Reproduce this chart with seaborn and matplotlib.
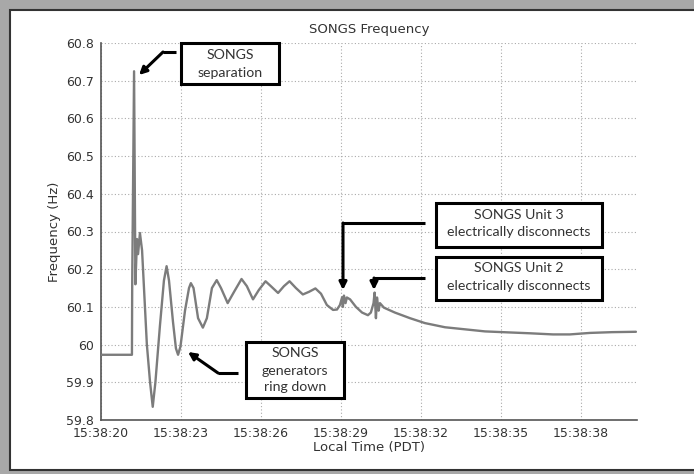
import matplotlib
matplotlib.use("Agg")
import matplotlib.pyplot as plt
import seaborn as sns
import pandas as pd
from matplotlib.patches import Rectangle, FancyArrowPatch
from matplotlib.lines import Line2D

# ---- data (seconds after 15:38:20, frequency in Hz) ----
t_sec = [0.00, 1.16, 1.17, 1.24, 1.29, 1.35, 1.39, 1.46, 1.54, 1.72, 1.84, 1.94,
         2.04, 2.21, 2.36, 2.46, 2.55, 2.70, 2.81, 2.89, 2.98, 3.15, 3.30, 3.37,
         3.47, 3.64, 3.82, 3.97, 4.16, 4.34, 4.50, 4.75, 4.99, 5.27, 5.47, 5.70,
         5.92, 6.17, 6.37, 6.64, 6.86, 7.07, 7.31, 7.57, 7.80, 8.04, 8.25, 8.47,
         8.70, 8.85, 8.96, 9.04, 9.07, 9.11, 9.17, 9.22, 9.34, 9.56, 9.79, 10.01,
         10.12, 10.22, 10.26, 10.31, 10.35, 10.41, 10.46, 10.61, 11.02, 11.59,
         12.15, 12.90, 13.72, 14.40, 15.07, 16.09, 16.95, 17.58, 18.34, 19.16, 20.06]
freq_hz = [59.973, 59.973, 60.160, 60.725, 60.160, 60.280, 60.240, 60.296, 60.250,
           60.000, 59.900, 59.835, 59.900, 60.050, 60.170, 60.208, 60.170, 60.060,
           59.990, 59.973, 59.995, 60.090, 60.150, 60.163, 60.150, 60.070, 60.045,
           60.070, 60.150, 60.171, 60.150, 60.110, 60.140, 60.174, 60.155, 60.120,
           60.145, 60.168, 60.155, 60.137, 60.155, 60.168, 60.150, 60.133, 60.140,
           60.149, 60.135, 60.105, 60.092, 60.093, 60.105, 60.125, 60.100, 60.130,
           60.110, 60.125, 60.120, 60.100, 60.085, 60.078, 60.085, 60.110, 60.138,
           60.070, 60.125, 60.090, 60.110, 60.098, 60.085, 60.070, 60.057, 60.046,
           60.040, 60.035, 60.033, 60.030, 60.027, 60.027, 60.031, 60.033, 60.034]

x_ticks = [0, 3, 6, 9, 12, 15, 18]
x_tick_labels = ["15:38:20", "15:38:23", "15:38:26", "15:38:29",
                 "15:38:32", "15:38:35", "15:38:38"]
y_ticks = [59.8, 59.9, 60.0, 60.1, 60.2, 60.3, 60.4, 60.5, 60.6, 60.7, 60.8]
y_tick_labels = ["59.8", "59.9", "60", "60.1", "60.2", "60.3", "60.4",
                 "60.5", "60.6", "60.7", "60.8"]

title = "SONGS Frequency"
x_label = "Local Time (PDT)"
y_label = "Frequency (Hz)"
notes = ["SONGS\nseparation",
         "SONGS Unit 3\nelectrically disconnects",
         "SONGS Unit 2\nelectrically disconnects",
         "SONGS\ngenerators\nring down"]

df = pd.DataFrame({"t": t_sec, "f": freq_hz})

sns.set_style("white")
plt.rcParams["font.family"] = ["DejaVu Sans"]

W, H = 694, 474
fig = plt.figure(figsize=(W / 100, H / 100), dpi=100)
fig.patch.set_facecolor("#a8a8a8")

def fx(x):
    return x / W

def fy(y):
    return 1 - y / H

# white panel with dark inner edge
panel = Rectangle((fx(10), fy(470)), fx(700) - fx(10), fy(10) - fy(470),
                  transform=fig.transFigure, facecolor="white",
                  edgecolor="#333333", linewidth=1.5, zorder=-5)
fig.patches.append(panel)

ax = fig.add_axes([fx(101), fy(420), fx(637) - fx(101), fy(43) - fy(420)])
ax.set_facecolor("none")
ax.set_zorder(1)

sns.lineplot(data=df, x="t", y="f", ax=ax, color="#7c7c7c", linewidth=1.7,
             zorder=3)

ax.set_xlim(0, 20.1)
ax.set_ylim(59.8, 60.8)
ax.set_xticks(x_ticks)
ax.set_xticklabels(x_tick_labels)
ax.set_yticks(y_ticks)
ax.set_yticklabels(y_tick_labels)
ax.tick_params(axis="both", labelsize=9, length=3, width=1, direction="out",
               colors="#444444", pad=2)
ax.tick_params(axis="both", labelcolor="#333333")
ax.grid(True, linestyle=(0, (1, 2)), color="#aaaaaa", linewidth=0.8)
for s in ["top", "right"]:
    ax.spines[s].set_visible(False)
for s in ["left", "bottom"]:
    ax.spines[s].set_color("#555555")
    ax.spines[s].set_linewidth(1.2)

ax.set_xlabel(x_label, fontsize=9.5, color="#333333", labelpad=1)
ax.set_ylabel(y_label, fontsize=9.5, color="#333333", labelpad=4)
ax.set_title(title, fontsize=9.5, color="#333333", pad=7)

# annotation boxes (pixel layout)
box_font = ["Lato", "DejaVu Sans"]
boxes = [
    (181, 43, 279, 84, notes[0], [55, 73]),
    (436, 203, 602, 247, notes[1], [215, 232]),
    (436, 257, 602, 300, notes[2], [268, 286]),
    (246, 342, 344, 398, notes[3], [353, 371, 387]),
]
for x0, y0, x1, y1, txt, ys in boxes:
    r = Rectangle((fx(x0), fy(y1)), fx(x1) - fx(x0), fy(y0) - fy(y1),
                  transform=fig.transFigure, facecolor="white",
                  edgecolor="black", linewidth=2.2, zorder=5)
    fig.patches.append(r)
    for line, yy in zip(txt.split("\n"), ys):
        fig.text(fx((x0 + x1) / 2), fy(yy), line, ha="center", va="center",
                 fontsize=10.2, family=box_font, color="#333333", zorder=6)

arrows = [
    [(176, 52), (163, 52), (139, 75)],
    [(425, 223), (343, 223), (343, 290)],
    [(425, 278), (374, 278), (374, 290)],
    [(238, 373), (218, 373), (188, 352)],
]
for pts in arrows:
    xs = [fx(p[0]) for p in pts[:-1]]
    ys = [fy(p[1]) for p in pts[:-1]]
    fig.lines.append(Line2D(xs, ys, transform=fig.transFigure, color="black",
                            linewidth=2.2, solid_capstyle="butt", zorder=5))
    a = FancyArrowPatch((fx(pts[-2][0]), fy(pts[-2][1])),
                        (fx(pts[-1][0]), fy(pts[-1][1])),
                        transform=fig.transFigure, arrowstyle="-|>",
                        mutation_scale=11, color="black", linewidth=2.2,
                        shrinkA=0, shrinkB=0, zorder=5)
    fig.patches.append(a)

fig.savefig("out.png", dpi=100, facecolor=fig.get_facecolor())
